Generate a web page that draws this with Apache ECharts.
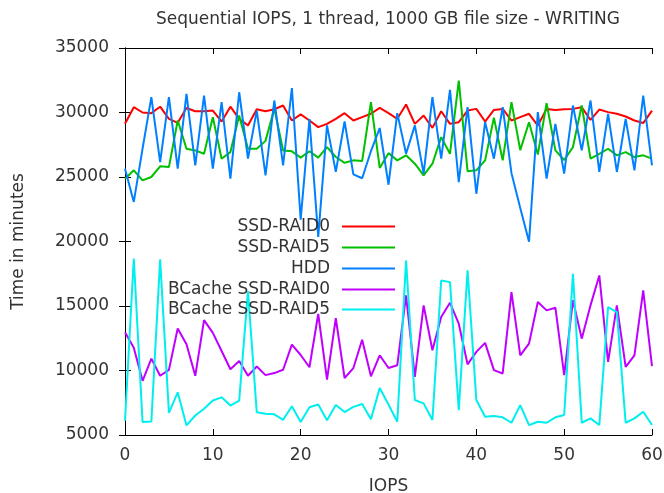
<!DOCTYPE html>
<html>
<head>
<meta charset="utf-8">
<script src="https://cdn.jsdelivr.net/npm/echarts@6/dist/echarts.min.js"></script>
<style>
  html, body { margin: 0; padding: 0; background: #fff; }
  #chart { width: 664px; height: 493px; }
</style>
</head>
<body>
<div id="chart"></div>
<script>
// Sample index (0..60)
const xValues = Array.from({ length: 61 }, (_, i) => i);

const seriesNames = ['SSD-RAID0', 'SSD-RAID5', 'HDD', 'BCache SSD-RAID0', 'BCache SSD-RAID5'];
const seriesColors = ['#ff0000', '#00c000', '#0080ff', '#c000ff', '#00eeee'];

const ssdRaid0 = [
  29130, 30410, 30000, 29950, 30450, 29500, 29200, 30350, 30100, 30100,
  30150, 29300, 30450, 29500, 29000, 30250, 30100, 30250, 30540, 29380,
  29850, 29380, 28870, 29120, 29510, 29950, 29380, 29640, 29900, 30360,
  29950, 29510, 30620, 29120, 29770, 28810, 30100, 29120, 29250, 30150,
  30280, 29300, 30200, 30280, 29380, 29640, 29900, 28990, 30280, 30200,
  30260, 30280, 30410, 29430, 30230, 30030, 29900, 29690, 29380, 29180,
  30150
];

const ssdRaid5 = [
  24870, 25520, 24740, 25000, 25830, 25770, 29380, 27190, 27060, 26800,
  29640, 26420, 26930, 29770, 27190, 27190, 27800, 30300, 27060, 26990,
  26500, 27000, 26500, 27320, 26550, 26100, 26290, 26240, 30800, 25700,
  26850, 26290, 26680, 26030, 25130, 26030, 28090, 26800, 32470, 25450,
  25520, 26290, 29600, 26290, 30800, 27080, 29250, 26740, 30730, 27060,
  26320, 27320, 30540, 26420, 26800, 27190, 26680, 26930, 26550, 26680,
  26420
];

const hdd = [
  25640, 23070, 27200, 31190, 26160, 31190, 25640, 31440, 25900, 31310,
  25640, 30800, 24870, 31570, 26420, 30150, 25130, 30930, 25900, 31900,
  21700, 29500, 20360, 29000, 25400, 29300, 25200, 24900, 27000, 28800,
  24400, 29950, 26800, 29000, 25260, 31190, 26420, 31750, 24610, 30410,
  23700, 29250, 26420, 30410, 25300, 22600, 19980, 30030, 24870, 29120,
  25260, 30540, 27060, 30930, 25390, 29900, 25390, 29510, 25520, 31310,
  25900
];

const bcacheRaid0 = [
  12970, 11770, 9200, 10920, 9590, 10050, 13260, 12030, 9590, 13900,
  12920, 11510, 10100, 10740, 9590, 10310, 9640, 9800, 10060, 12000,
  11200, 10250, 14380, 9300, 14050, 9420, 10190, 12380, 9550, 11180,
  10190, 10410, 15820, 9510, 15050, 11570, 14150, 15250, 13630, 10480,
  11440, 12140, 10030, 9770, 16080, 11180, 12090, 15310, 14660, 14870,
  9640, 15440, 12470, 15050, 17370, 10670, 15050, 10280, 11180, 16210,
  10340
];

const bcacheRaid5 = [
  6100, 18680, 6000, 6050, 18610, 6720, 8310, 5740, 6510, 7030,
  7670, 7920, 7280, 7670, 16130, 6770, 6640, 6600, 6180, 7230,
  6000, 7150, 7360, 6150, 7320, 6780, 7180, 7400, 6230, 8650,
  7360, 6030, 18530, 7710, 7450, 6160, 16980, 16850, 6930, 17760,
  7710, 6420, 6470, 6370, 5950, 7320, 5770, 6030, 5950, 6370,
  6550, 17500, 5950, 6290, 5770, 14920, 14530, 5950, 6290, 6800,
  5770
];

const xTicks = { min: 0, max: 60, step: 10 };
const yTicks = { min: 5000, max: 35000, step: 5000 };

const allValues = [ssdRaid0, ssdRaid5, hdd, bcacheRaid0, bcacheRaid5];

const FONT = 'DejaVu Sans';
const TEXT = '#333';
const FS = 17;

const chart = echarts.init(document.getElementById('chart'), null, { renderer: 'canvas' });

const series = seriesNames.map((name, k) => ({
  name,
  type: 'line',
  xAxisIndex: 0,
  yAxisIndex: 0,
  data: xValues.map((x, i) => [x, allValues[k][i]]),
  showSymbol: false,
  symbol: 'none',
  lineStyle: { color: seriesColors[k], width: 2 },
  itemStyle: { color: seriesColors[k] },
  animation: false
}));

// one legend block per entry, so that the keys line up on their right edge
const legendRows = [224, 245, 266, 287, 307];
const legends = seriesNames.map((name, k) => ({
  data: [name],
  right: 269,
  top: legendRows[k] - 6,
  padding: 0,
  align: 'right',
  orient: 'vertical',
  icon: 'rect',
  itemWidth: 53,
  itemHeight: 2,
  selectedMode: false,
  textStyle: { fontFamily: FONT, fontSize: FS, color: TEXT, padding: [0, 7, 0, 0] }
}));

const axisLine = { show: true, lineStyle: { color: '#000', width: 1 } };
const plain = (v) => String(v);

chart.setOption({
  backgroundColor: '#fff',
  animation: false,
  title: {
    text: 'Sequential IOPS, 1 thread, 1000 GB file size - WRITING',
    left: 388,
    top: 11,
    padding: 0,
    textAlign: 'center',
    textStyle: { fontFamily: FONT, fontSize: FS, fontWeight: 'normal', color: TEXT }
  },
  legend: legends,
  grid: {
    left: 125, right: 12, top: 48, bottom: 58,
    containLabel: false,
    outerBoundsMode: 'none'
  },
  xAxis: [
    {
      type: 'value',
      min: xTicks.min, max: xTicks.max, interval: xTicks.step,
      position: 'bottom',
      name: 'IOPS',
      nameLocation: 'middle',
      nameGap: 43,
      nameTextStyle: { fontFamily: FONT, fontSize: FS, color: TEXT },
      axisLine,
      axisTick: { show: true, inside: true, length: 6, lineStyle: { color: '#000' } },
      axisLabel: { margin: 12, fontFamily: FONT, fontSize: FS, color: TEXT, formatter: plain },
      splitLine: { show: false }
    },
    {
      type: 'value',
      min: xTicks.min, max: xTicks.max, interval: xTicks.step,
      position: 'top',
      axisLine,
      axisTick: { show: true, inside: true, length: 6, lineStyle: { color: '#000' } },
      axisLabel: { show: false },
      splitLine: { show: false }
    }
  ],
  yAxis: [
    {
      type: 'value',
      min: yTicks.min, max: yTicks.max, interval: yTicks.step,
      position: 'left',
      name: 'Time in minutes',
      nameLocation: 'middle',
      nameGap: 98,
      nameTextStyle: { fontFamily: FONT, fontSize: FS, color: TEXT },
      axisLine,
      axisTick: { show: true, inside: true, length: 6, lineStyle: { color: '#000' } },
      axisLabel: { margin: 16, fontFamily: FONT, fontSize: FS, color: TEXT, formatter: plain },
      splitLine: { show: false }
    },
    {
      type: 'value',
      min: yTicks.min, max: yTicks.max, interval: yTicks.step,
      position: 'right',
      axisLine,
      axisTick: { show: true, inside: true, length: 6, lineStyle: { color: '#000' } },
      axisLabel: { show: false },
      splitLine: { show: false }
    }
  ],
  series
});
</script>
</body>
</html>
